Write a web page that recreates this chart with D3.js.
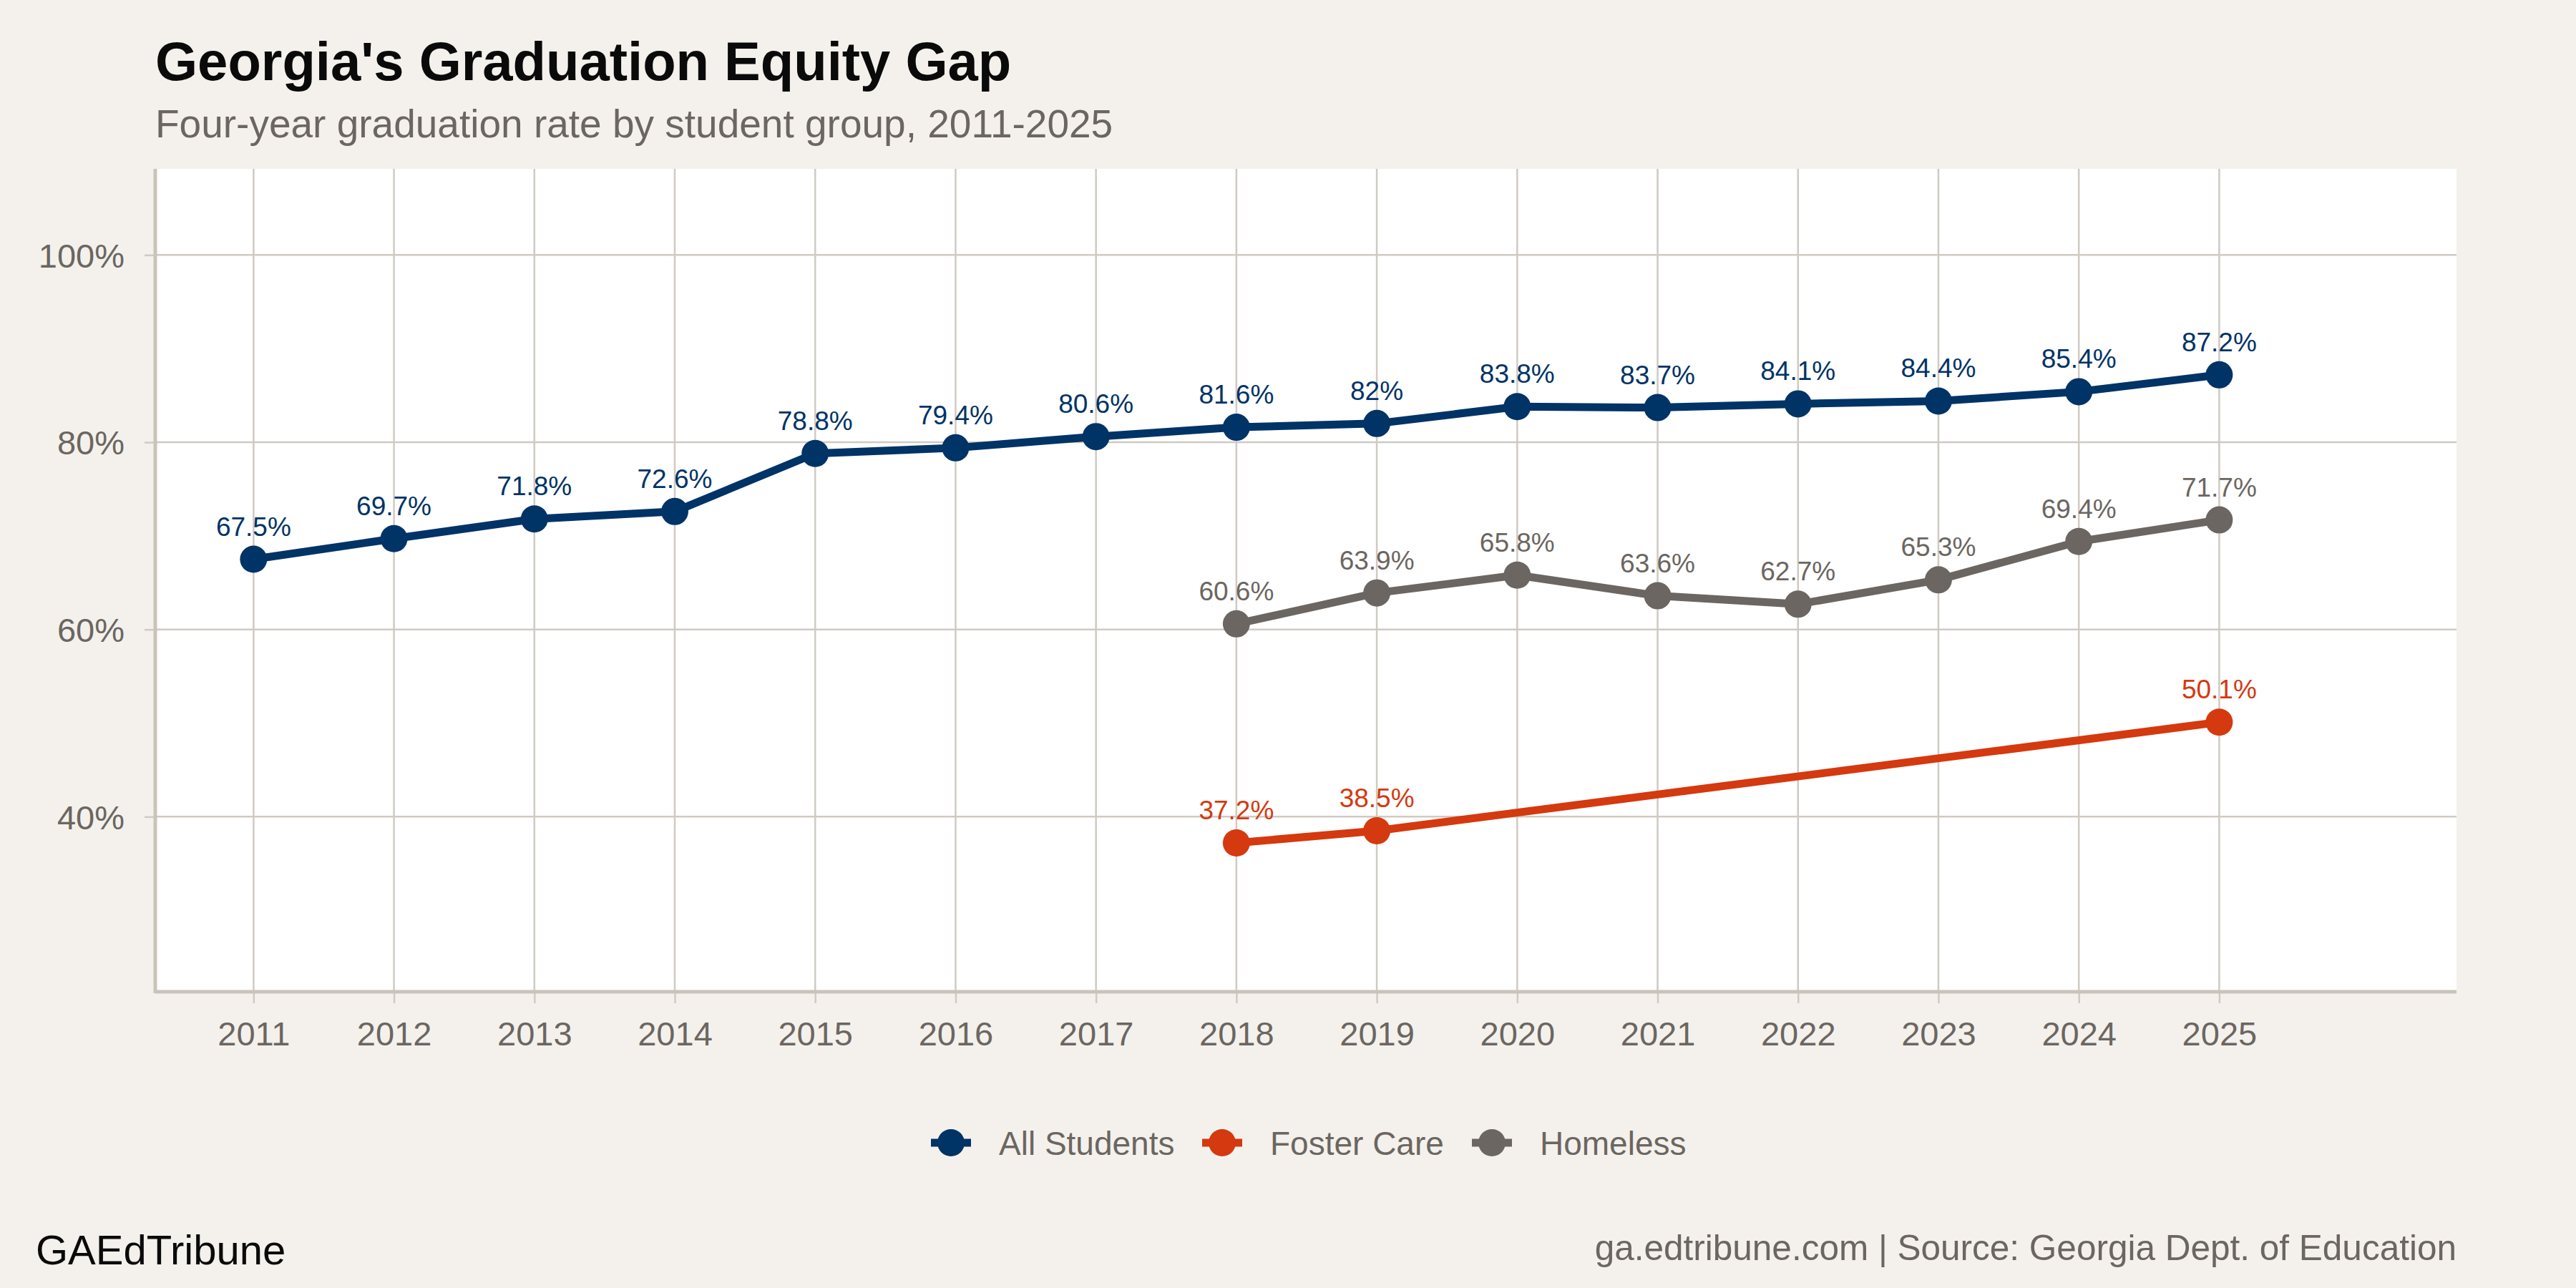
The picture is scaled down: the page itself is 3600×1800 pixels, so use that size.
<!DOCTYPE html>
<html>
<head>
<meta charset="utf-8">
<script src="https://cdn.jsdelivr.net/npm/d3@7"></script>
<style>
  html, body { margin: 0; padding: 0; background: #f4f1ec; }
  svg { display: block; font-family: "Liberation Sans", Arial, Helvetica, sans-serif; }
</style>
</head>
<body>
<div id="chart"></div>
<script>
// data
const allYears = [2011, 2012, 2013, 2014, 2015, 2016, 2017, 2018, 2019, 2020, 2021, 2022, 2023, 2024, 2025];
const allStudents = [67.5, 69.7, 71.8, 72.6, 78.8, 79.4, 80.6, 81.6, 82, 83.8, 83.7, 84.1, 84.4, 85.4, 87.2];
const fosterYears = [2018, 2019, 2025];
const fosterCare = [37.2, 38.5, 50.1];
const homelessYears = [2018, 2019, 2020, 2021, 2022, 2023, 2024, 2025];
const homeless = [60.6, 63.9, 65.8, 63.6, 62.7, 65.3, 69.4, 71.7];
const yTicks = [40, 60, 80, 100];
const groupNames = ["All Students", "Foster Care", "Homeless"];
const groupColors = ["#003366", "#d4390f", "#6b6661"];

const cfg = { width: 3600, height: 1800, left: 217, right: 3433, top: 236, bottom: 1386 };

const series = [
  { name: groupNames[0], color: groupColors[0], pts: allYears.map((y, i) => ({ year: y, val: allStudents[i] })) },
  { name: groupNames[1], color: groupColors[1], pts: fosterYears.map((y, i) => ({ year: y, val: fosterCare[i] })) },
  { name: groupNames[2], color: groupColors[2], pts: homelessYears.map((y, i) => ({ year: y, val: homeless[i] })) }
];

const svg = d3.select("#chart").append("svg")
  .attr("width", cfg.width)
  .attr("height", cfg.height);

svg.append("rect").attr("width", cfg.width).attr("height", cfg.height).attr("fill", "#f4f1ec");

const x = d3.scaleLinear().domain([2010.3, 2026.69]).range([cfg.left, cfg.right]);
const y = d3.scaleLinear().domain([21.3, 109.2]).range([cfg.bottom, cfg.top]);

// panel
svg.append("rect")
  .attr("x", cfg.left).attr("y", cfg.top)
  .attr("width", cfg.right - cfg.left).attr("height", cfg.bottom - cfg.top)
  .attr("fill", "#ffffff");

const grid = svg.append("g");
grid.selectAll("line.gx").data(allYears).enter().append("line")
  .attr("x1", d => x(d)).attr("x2", d => x(d))
  .attr("y1", cfg.top).attr("y2", cfg.bottom)
  .attr("stroke", "#cfcac3").attr("stroke-width", 2.5);
grid.selectAll("line.gy").data(yTicks).enter().append("line")
  .attr("x1", cfg.left).attr("x2", cfg.right)
  .attr("y1", d => y(d)).attr("y2", d => y(d))
  .attr("stroke", "#cfcac3").attr("stroke-width", 2.5);

// axes
const xAxis = d3.axisBottom(x).tickValues(allYears).tickFormat(d3.format("d")).tickSize(16).tickPadding(26);
const yAxis = d3.axisLeft(y).tickValues(yTicks).tickFormat(d => d + "%").tickSize(15).tickPadding(28);

const gx = svg.append("g").attr("transform", `translate(0,${cfg.bottom})`).call(xAxis);
const gy = svg.append("g").attr("transform", `translate(${cfg.left},0)`).call(yAxis);
[gx, gy].forEach(g => {
  g.select(".domain").remove();
  g.selectAll(".tick line").attr("stroke", "#cfcac3").attr("stroke-width", 2.5);
  g.selectAll(".tick text").attr("fill", "#6b6661").style("font-size", "47px");
});
gy.selectAll(".tick text").attr("dy", "0.36em");

svg.append("line").attr("x1", cfg.left).attr("x2", cfg.left).attr("y1", cfg.top).attr("y2", cfg.bottom + 2)
  .attr("stroke", "#c9c3ba").attr("stroke-width", 5);
svg.append("line").attr("x1", cfg.left).attr("x2", cfg.right).attr("y1", cfg.bottom).attr("y2", cfg.bottom)
  .attr("stroke", "#c9c3ba").attr("stroke-width", 5);

// lines, points, labels
const line = d3.line().x(d => x(d.year)).y(d => y(d.val));
const gs = svg.append("g").selectAll("g").data(series).enter().append("g");
gs.append("path")
  .attr("d", d => line(d.pts))
  .attr("fill", "none")
  .attr("stroke", d => d.color)
  .attr("stroke-width", 11)
  .attr("stroke-linejoin", "round");
gs.each(function(s) {
  d3.select(this).selectAll("circle").data(s.pts).enter().append("circle")
    .attr("cx", d => x(d.year)).attr("cy", d => y(d.val)).attr("r", 19)
    .attr("fill", s.color);
});
const gl = svg.append("g").selectAll("g").data(series).enter().append("g");
gl.each(function(s) {
  d3.select(this).selectAll("text").data(s.pts).enter().append("text")
    .attr("x", d => x(d.year)).attr("y", d => y(d.val) - 33)
    .attr("text-anchor", "middle")
    .attr("fill", s.color)
    .style("font-size", "37px")
    .text(d => d.val + "%");
});

// legend
const legendX = [1329, 1708, 2085];
const legY = 1597;
const leg = svg.append("g").selectAll("g").data(series).enter().append("g")
  .attr("transform", (d, i) => `translate(${legendX[i]},${legY})`);
leg.append("line").attr("x1", -28).attr("x2", 28).attr("y1", 0).attr("y2", 0)
  .attr("stroke", d => d.color).attr("stroke-width", 11);
leg.append("circle").attr("r", 19).attr("fill", d => d.color);
leg.append("text").attr("x", 67).attr("y", 0).attr("dy", "0.36em")
  .attr("fill", "#6b6661").style("font-size", "46px")
  .text(d => d.name);

// titles
svg.append("text").attr("x", 217).attr("y", 112)
  .attr("fill", "#0a0a0a").style("font-size", "76px").style("font-weight", "bold")
  .text("Georgia's Graduation Equity Gap");
svg.append("text").attr("x", 217).attr("y", 192)
  .attr("fill", "#6b6661").style("font-size", "55px")
  .text("Four-year graduation rate by student group, 2011-2025");

// footer
svg.append("text").attr("x", 50).attr("y", 1767)
  .attr("fill", "#0a0a0a").style("font-size", "58px")
  .text("GAEdTribune");
svg.append("text").attr("x", 3433).attr("y", 1761).attr("text-anchor", "end")
  .attr("fill", "#6b6661").style("font-size", "49.5px")
  .text("ga.edtribune.com | Source: Georgia Dept. of Education");
</script>
</body>
</html>
